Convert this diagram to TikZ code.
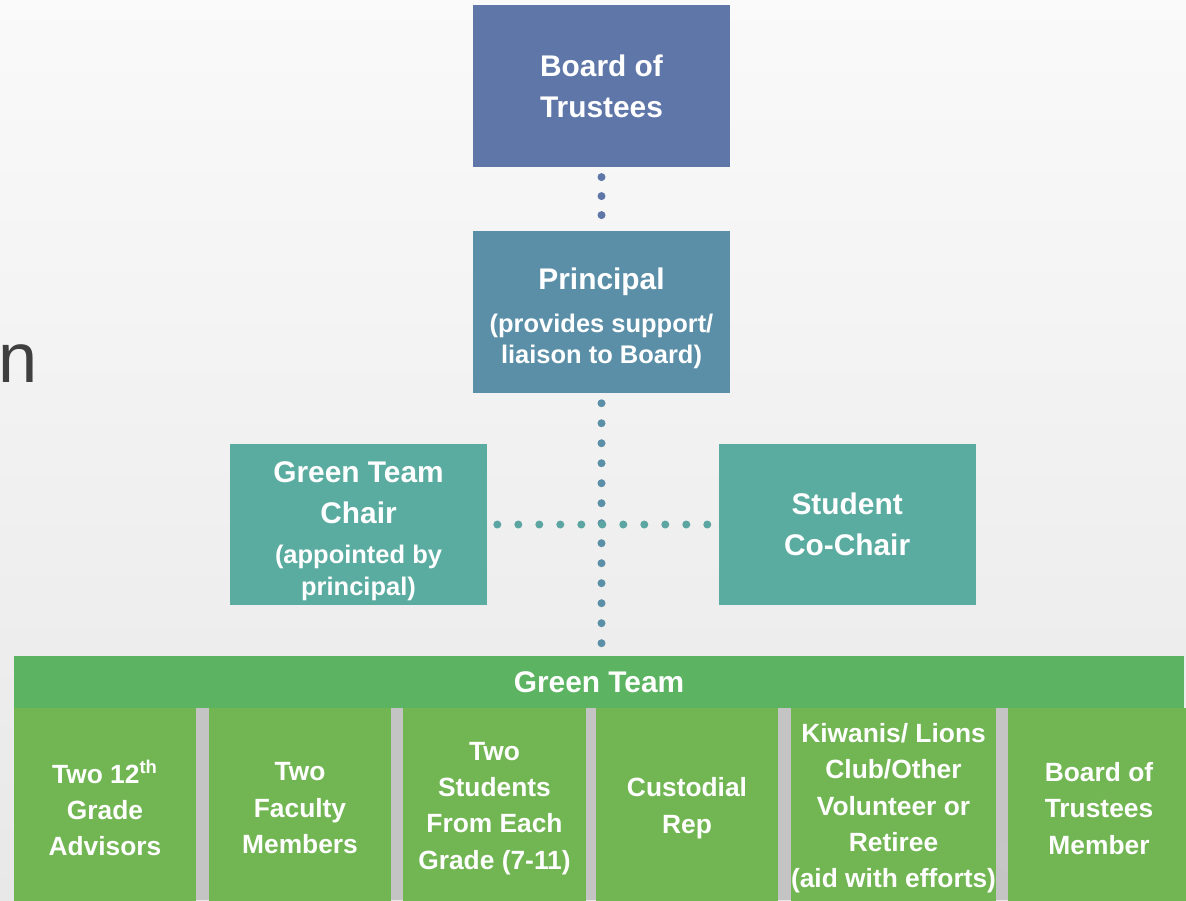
\documentclass[tikz,border=0pt]{standalone}
\usepackage{fontspec}
\setmainfont{Liberation Sans}
\usetikzlibrary{positioning}
\usepackage{xcolor}

\definecolor{boardblue}{HTML}{5E76A8}
\definecolor{principalblue}{HTML}{5B8FA8}
\definecolor{chairteal}{HTML}{5BACA0}
\definecolor{teamgreen}{HTML}{5CB462}
\definecolor{membergreen}{HTML}{72B654}
\definecolor{gapgray}{HTML}{C4C4C4}
\definecolor{headgray}{HTML}{3F3F3F}

\newcommand{\titlefont}{\fontsize{17}{23.2}\selectfont\bfseries}
\newcommand{\notefont}{\fontsize{14.5}{18.1}\selectfont\bfseries}
\newcommand{\toppad}{\rule{0pt}{19.6pt}}

\begin{document}
\begin{tikzpicture}[
    x=0.02cm, y=-0.02cm,
    node distance=1.28cm,
    unit/.style={rectangle, text=white, minimum width=5.14cm, minimum height=3.23cm, inner sep=0pt, align=center, font=\titlefont},
    member/.style={rectangle, fill=membergreen, text=white, anchor=north, minimum width=3.64cm, minimum height=4cm, inner sep=0pt, align=center, font=\fontsize{15}{20.7}\selectfont\bfseries},
    dotlink/.style={line width=0.16cm, line cap=round, dash pattern=on 0pt off #1, shorten <=0.2cm, shorten >=0.2cm}
]

% background
\useasboundingbox (0,0) rectangle (1186,900);
\fill[top color=gray!4, bottom color=gray!18] (0,0) rectangle (1186,900);
\node[anchor=base west, inner sep=0pt, text=headgray, font=\fontsize{40}{40}\selectfont] (heading) at (-2,382) {n};

% hierarchy
\node[unit, fill=boardblue] (board) at (601.5,86) {Board of\\Trustees};
\node[unit, fill=principalblue, below=of board] (principal) {\toppad Principal\\[1pt]\notefont (provides support/\\[-5pt]\notefont liaison to Board)};
\node[unit, fill=chairteal] (chair) at (358.5,524.5) {\toppad Green Team\\Chair\\\notefont (appointed by\\[-5pt]\notefont principal)};
\node[unit, fill=chairteal, right=4.62cm of chair] (cochair) {Student\\Co-Chair};

% green team
\node[rectangle, fill=teamgreen, text=white, minimum width=23.4cm, minimum height=1.04cm, inner sep=0pt, font=\titlefont] (team) at (599,682) {Green Team};
\fill[gapgray] (14,708) rectangle (1186,900);

\node[member] (advisors) at (105,708) {Two 12\textsuperscript{th}\\Grade\\Advisors};
\node[member] (faculty) at (300,708) {Two\\Faculty\\Members};
\node[member, minimum width=3.66cm] (students) at (494.5,708) {Two\\Students\\From Each\\Grade (7-11)};
\node[member] (custodial) at (687,708) {Custodial\\Rep};
\node[member, minimum width=4.06cm] (volunteer) at (893.5,708) {Kiwanis/ Lions\\Club/Other\\Volunteer or\\Retiree\\(aid with efforts)};
\fill[gray!45] (1006,856) ellipse [x radius=0.2cm, y radius=0.32cm];
\node[member] (trustee) at (1099,708) {Board of\\Trustees\\Member};

% dotted links
\draw[dotlink=0.38cm, boardblue] (board) -- (principal);
\draw[dotlink=0.4cm, principalblue] (principal.south) -- (principal.south |- team.north);
\draw[dotlink=0.42cm, chairteal!75!principalblue] (chair) -- (cochair);

\end{tikzpicture}
\end{document}
